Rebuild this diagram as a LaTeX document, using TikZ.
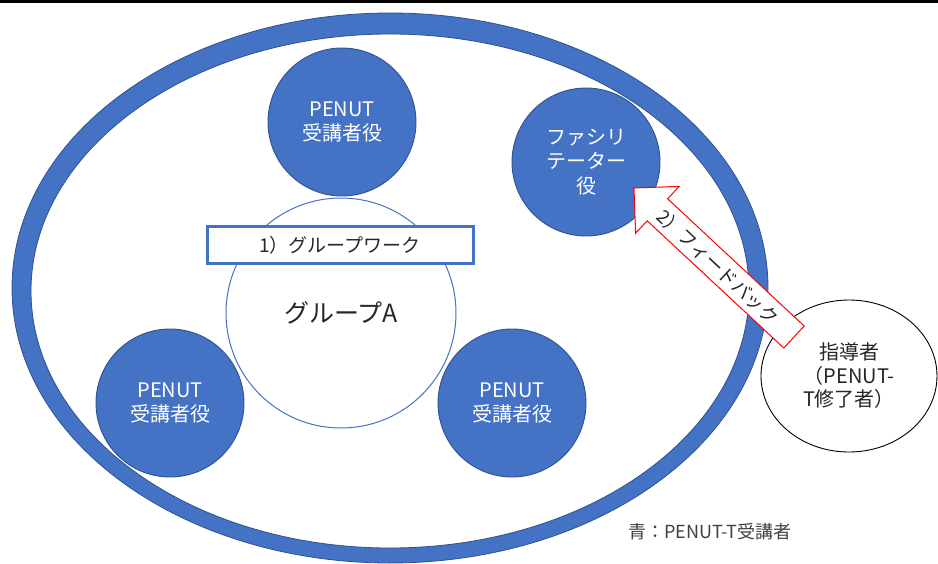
\documentclass[tikz,border=0pt]{standalone}
\usepackage{fontspec}
\setmainfont{Noto Sans CJK JP}
\usetikzlibrary{shapes.geometric}
\definecolor{blueA}{HTML}{4472C4}
\definecolor{blueD}{HTML}{2F528F}
\definecolor{txt}{HTML}{262626}
\definecolor{legtxt}{HTML}{404040}
\begin{document}
\begin{tikzpicture}[x=1pt,y=-1pt,
  role/.style={circle, fill=blueA, draw=blueD, line width=0.9pt, minimum size=148pt, inner sep=0pt,
    text=white, align=center, font=\fontsize{20}{24.5}\selectfont},
  groupc/.style={circle, draw=blueA, line width=1pt, fill=white, minimum size=230pt, inner sep=0pt,
    text=txt, font=\fontsize{25}{30}\selectfont},
  labelbox/.style={draw=blueA, line width=3pt, fill=white, minimum width=266pt, minimum height=37pt,
    inner sep=0pt, text=txt, font=\fontsize{19}{22}\selectfont},
  leader/.style={ellipse, draw=black, line width=0.9pt, fill=white, minimum width=176pt, minimum height=152pt,
    inner sep=0pt, align=center, text=txt, font=\fontsize{20}{23.5}\selectfont},
  fbarrow/.style={draw=red, line width=1pt, fill=white, line join=miter},
  fbtext/.style={text=txt, font=\fontsize{18.5}{20}\selectfont, rotate=-43},
  legend/.style={text=legtxt, font=\fontsize{18}{20}\selectfont}
]
\useasboundingbox (0,0) rectangle (938,563);
\fill[white] (0,0) rectangle (938,563);
\fill[black] (0,0) rectangle (938,3);
% outer ring
\fill[blueA, even odd rule] (390,288) ellipse [x radius=378pt, y radius=275pt]
  (390,291) ellipse [x radius=359pt, y radius=257pt];
\draw[blueD, line width=0.8pt] (390,288) ellipse [x radius=378pt, y radius=275pt];
\draw[blueD, line width=0.8pt] (390,291) ellipse [x radius=359pt, y radius=257pt];
% role circles
\node[role] (p1) at (342,122) {PENUT\\受講者役};
\node[role] (fac) at (586,162) {ファシリ\\テーター\\役};
\node[role] (p2) at (170,403) {PENUT\\受講者役};
\node[role] (p3) at (512,403) {PENUT\\受講者役};
% group
\node[groupc] (ga) at (341,313) {グループA};
\node[labelbox] (gw) at (340,245) {1）グループワーク};
% leader
\node[leader] (ld) at (849,376) {指導者\\（PENUT-\\T修了者）};
% feedback arrow
\coordinate (t1) at (804.2,326.0);
\coordinate (n1) at (667.6,198.8);
\coordinate (b1) at (679.2,186.4);
\coordinate (tip) at (634,188);
\coordinate (b2) at (635.6,233.2);
\coordinate (n2) at (647.2,220.8);
\coordinate (t2) at (783.8,348.0);
\draw[fbarrow] (t1) -- (n1) -- (b1) -- (tip) -- (b2) -- (n2) -- (t2) -- cycle;
\node[fbtext] (fb) at (718,267) {2）フィードバック};
% legend
\node[legend] (leg) at (710,532) {青：PENUT-T受講者};
\end{tikzpicture}
\end{document}
